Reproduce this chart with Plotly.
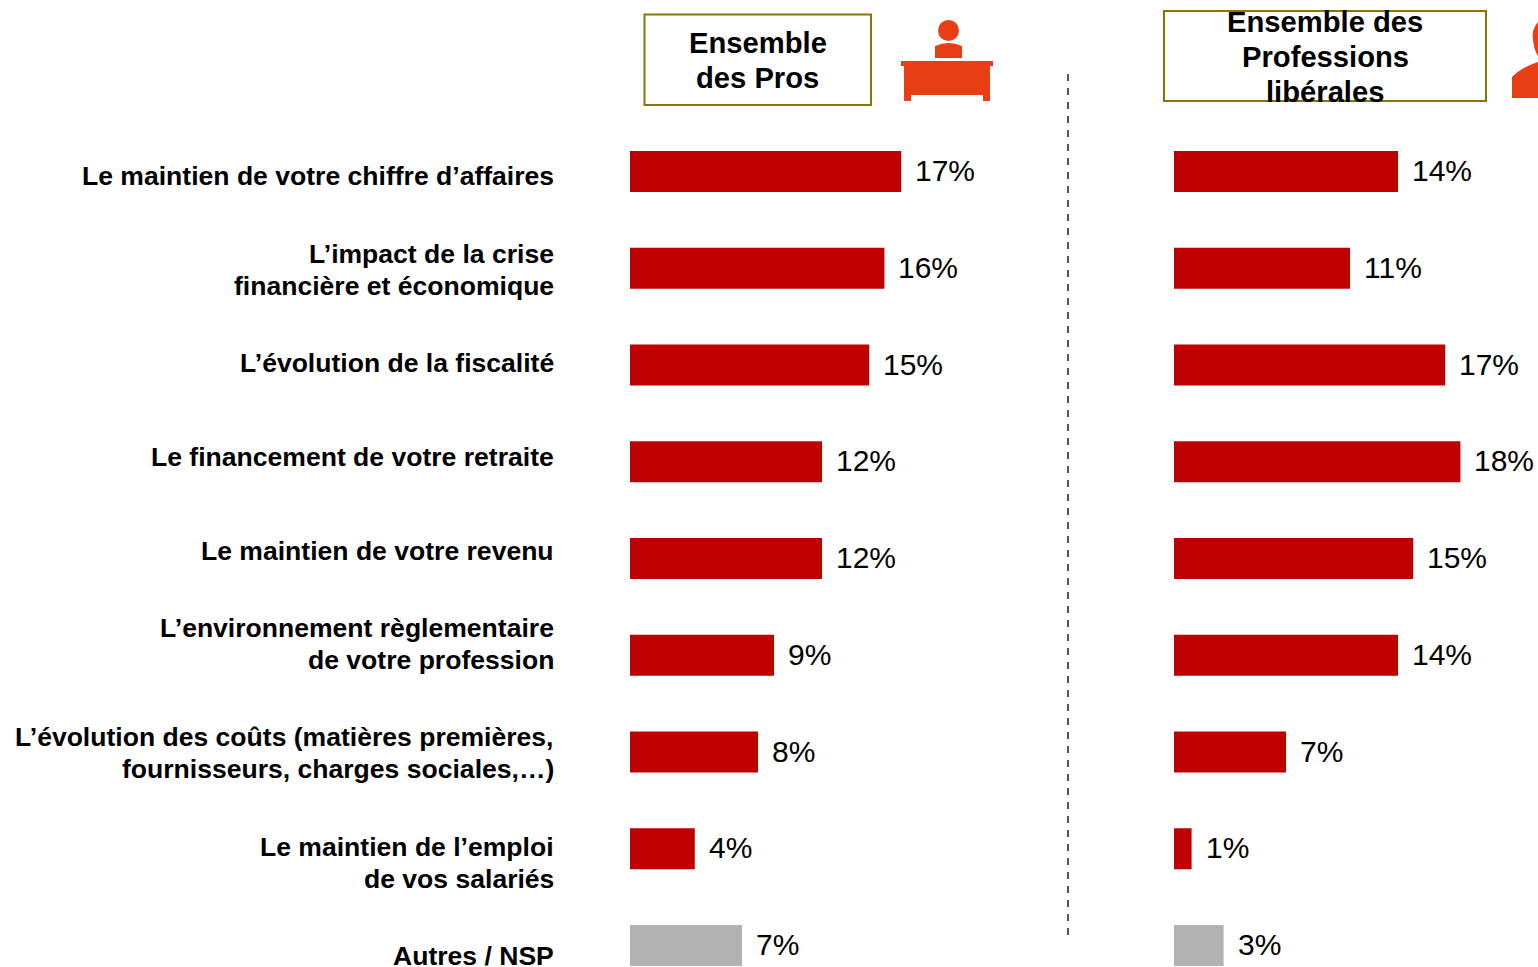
import plotly.graph_objects as go

W, H = 1538, 967
categories = ["Le maintien de votre chiffre d’affaires",
              "L’impact de la crise<br>financière et économique",
              "L’évolution de la fiscalité",
              "Le financement de votre retraite",
              "Le maintien de votre revenu",
              "L’environnement règlementaire<br>de votre profession",
              "L’évolution des coûts (matières premières,<br>fournisseurs, charges sociales,…)",
              "Le maintien de l’emploi<br>de vos salariés",
              "Autres / NSP"]
pros = [16.95, 15.9, 14.95, 12, 12, 9, 8, 4.05, 7]
liberales = [14, 11, 16.95, 17.9, 14.95, 14, 7, 1.1, 3.1]
bar_colors = ["#C00000"] * 8 + ["#B2B2B2"]
label_shift = [4.5, 2, -2, -5, -7.5, -11.5, 1, 14, 10.5]
LINE = 32

def px(x): return x / W
def py(y): return 1 - y / H

fig = go.Figure()
for vals, xa in ((pros, "x"), (liberales, "x2")):
    fig.add_trace(go.Bar(y=categories, x=vals, orientation="h", xaxis=xa, yaxis="y",
                         marker=dict(color=bar_colors, line_width=0), width=0.424,
                         hoverinfo="x+y", showlegend=False))

ann = []
for i, c in enumerate(categories):
    lines = c.split("<br>")
    for j, t in enumerate(lines):
        off = (j - (len(lines) - 1) / 2) * LINE
        ann.append(dict(x=px(556), xref="paper", y=c, yref="y", text=t, xanchor="right", yanchor="middle",
                        yshift=-(label_shift[i] + off), showarrow=False,
                        font=dict(family="Liberation Sans", size=26.55, color="black", weight="bold")))
for vals, xr in ((pros, "x"), (liberales, "x2")):
    for c, v in zip(categories, vals):
        ann.append(dict(x=v, xref=xr, y=c, yref="y", text=f"{round(v)}%", xanchor="left", yanchor="middle",
                        xshift=12, yshift=1, showarrow=False,
                        font=dict(family="Liberation Sans", size=30, color="black")))

def head(cx, lines):
    for t, cy in lines:
        ann.append(dict(x=px(cx), xref="paper", y=py(cy), yref="paper", text=t, showarrow=False,
                        xanchor="center", yanchor="middle",
                        font=dict(family="Liberation Sans", size=29.2, color="black", weight="bold")))
head(757.5, [("Ensemble", 43), ("des Pros", 78)])
head(1325, [("Ensemble des", 22), ("Professions", 57), ("libérales", 92)])

ORANGE = "#E83E14"
def rect(x0, y0, x1, y1, **kw):
    d = dict(type="rect", xref="paper", yref="paper", x0=px(x0), x1=px(x1), y0=py(y0), y1=py(y1), layer="above")
    d.update(kw)
    return d
def fill(x0, y0, x1, y1):
    return rect(x0, y0, x1, y1, fillcolor=ORANGE, line_width=0)

shapes = [
    rect(644.5, 14.5, 871, 105, line=dict(color="#8B7500", width=2), fillcolor="rgba(0,0,0,0)", layer="below"),
    rect(1164, 11, 1486, 101, line=dict(color="#8B7500", width=2), fillcolor="rgba(0,0,0,0)", layer="below"),
    dict(type="line", xref="paper", yref="paper", x0=px(1068), x1=px(1068), y0=py(74), y1=py(942),
         line=dict(color="#555555", width=2, dash="7px,7px")),
    dict(type="circle", xref="paper", yref="paper", x0=px(938), x1=px(959), y0=py(20), y1=py(41),
         fillcolor=ORANGE, line_width=0),
    dict(type="path", xref="paper", yref="paper", fillcolor=ORANGE, line_width=0,
         path=f"M {px(935)} {py(58)} L {px(935)} {py(46)} Q {px(948.5)} {py(40)} {px(962)} {py(46)} L {px(962)} {py(58)} Z"),
    fill(901, 61, 993, 66), fill(904, 66, 990, 95), fill(904, 95, 911, 101), fill(983, 95, 990, 101),
    dict(type="path", xref="paper", yref="paper", fillcolor=ORANGE, line_width=0,
         path=f"M {px(1512)} {py(98)} L {px(1512)} {py(77)} Q {px(1520)} {py(68)} {px(1538)} {py(62)} L {px(1538)} {py(98)} Z"),
    dict(type="path", xref="paper", yref="paper", fillcolor=ORANGE, line_width=0,
         path=f"M {px(1538)} {py(22)} Q {px(1531)} {py(30)} {px(1533)} {py(40)} Q {px(1534)} {py(50)} {px(1538)} {py(56)} Z"),
]

fig.update_layout(
    width=W, height=H, margin=dict(l=0, r=0, t=0, b=0), paper_bgcolor="white", plot_bgcolor="white",
    barmode="overlay", annotations=ann, shapes=shapes, showlegend=False,
    font=dict(family="Liberation Sans"),
    xaxis=dict(domain=[px(630), px(1100)], range=[0, 470 / 16], visible=False, fixedrange=True),
    xaxis2=dict(domain=[px(1174), 1], range=[0, 364 / 16], visible=False, fixedrange=True),
    yaxis=dict(domain=[0, 1], range=[8.222, -1.7726], type="category", categoryorder="array",
               categoryarray=categories, visible=False, fixedrange=True),
)
fig.write_html("out.html", config=dict(displayModeBar=False),
               post_script="document.body.style.margin='0';document.body.style.overflow='hidden';")
